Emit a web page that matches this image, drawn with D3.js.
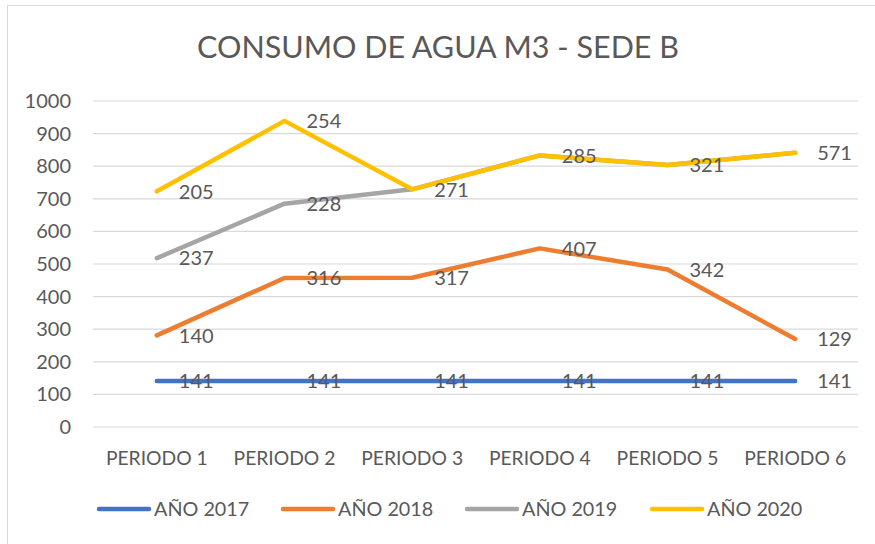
<!DOCTYPE html>
<html>
<head>
<meta charset="utf-8">
<script src="https://cdn.jsdelivr.net/npm/d3@7"></script>
<style>
  body { margin: 0; background: #fff; }
  text { font-family: Lato, "Open Sans", sans-serif; fill: #595959; }
</style>
</head>
<body>
<svg id="chart" width="875" height="544"></svg>
<script>
// data (stacked lines, one value per period)
var periods = ["PERIODO 1", "PERIODO 2", "PERIODO 3", "PERIODO 4", "PERIODO 5", "PERIODO 6"];
var years = ["AÑO 2017", "AÑO 2018", "AÑO 2019", "AÑO 2020"];
var y2017 = [141, 141, 141, 141, 141, 141];
var y2018 = [140, 316, 317, 407, 342, 129];
var y2019 = [237, 228, 271, 285, 321, 571];
var y2020 = [205, 254, 0, 0, 0, 0];
var yTicks = [0, 100, 200, 300, 400, 500, 600, 700, 800, 900, 1000];
var colors = ["#4472C4", "#ED7D31", "#A5A5A5", "#FFC000"];

var series = [y2017, y2018, y2019, y2020];
var rows = periods.map(function (p, i) {
  var r = { period: p };
  years.forEach(function (y, k) { r[y] = series[k][i]; });
  return r;
});
var stacked = d3.stack().keys(years)(rows);

var svg = d3.select("#chart");

// chart border
svg.append("rect")
   .attr("x", 7.5).attr("y", 5.5)
   .attr("width", 900).attr("height", 600)
   .attr("fill", "none")
   .attr("stroke", "#d9d9d9");

var x = d3.scaleBand().domain(periods).range([93, 859]);
var y = d3.scaleLinear().domain([0, 1000]).range([427, 101]);

// gridlines
svg.append("g")
   .selectAll("line")
   .data(yTicks)
   .join("line")
   .attr("x1", 93).attr("x2", 858)
   .attr("y1", function (d) { return y(d); })
   .attr("y2", function (d) { return y(d); })
   .attr("stroke", "#d9d9d9")
   .attr("stroke-width", 1.2);

// y axis labels
var yAxis = svg.append("g")
   .attr("transform", "translate(75,0)")
   .call(d3.axisLeft(y).tickValues(yTicks).tickFormat(d3.format("d")).tickSize(0).tickPadding(4));
yAxis.select(".domain").remove();
yAxis.selectAll("text")
   .style("font-size", "20px")
   .style("font-family", "Lato, sans-serif")
   .attr("fill", "#595959");

// x axis labels
var xAxis = svg.append("g")
   .attr("transform", "translate(0,427)")
   .call(d3.axisBottom(x).tickSize(0).tickPadding(24));
xAxis.select(".domain").remove();
xAxis.selectAll("text")
   .style("font-size", "19.3px")
   .style("font-family", "Lato, sans-serif")
   .attr("fill", "#595959");

var cx = function (d) { return x(d.data.period) + x.bandwidth() / 2; };

var line = d3.line()
   .x(cx)
   .y(function (d) { return y(d[1]); });

svg.append("g")
   .selectAll("path")
   .data(stacked)
   .join("path")
   .attr("d", line)
   .attr("fill", "none")
   .attr("stroke", function (d, i) { return colors[i]; })
   .attr("stroke-width", 4.5)
   .attr("stroke-linecap", "round")
   .attr("stroke-linejoin", "round");

// data labels, right of each point; zero values are hidden
stacked.forEach(function (s) {
  svg.append("g")
     .selectAll("text")
     .data(s.filter(function (d) { return d[1] - d[0] > 0; }))
     .join("text")
     .attr("x", function (d) { return cx(d) + 22; })
     .attr("y", function (d) { return y(d[1]); })
     .attr("dy", "0.36em")
     .style("font-size", "20px")
     .text(function (d) { return d[1] - d[0]; });
});

// title
svg.append("text")
   .attr("x", 438).attr("y", 58)
   .attr("text-anchor", "middle")
   .style("font-size", "30.5px")
   .text("CONSUMO DE AGUA M3 - SEDE B");

// legend
var legendX = [97, 281, 465, 650];
var legend = svg.append("g")
   .selectAll("g")
   .data(years)
   .join("g")
   .attr("transform", function (d, i) { return "translate(" + legendX[i] + ",509)"; });
legend.append("line")
   .attr("x1", 2).attr("x2", 52)
   .attr("stroke", function (d, i) { return colors[i]; })
   .attr("stroke-width", 4.5)
   .attr("stroke-linecap", "round");
legend.append("text")
   .attr("x", 57)
   .attr("dy", "0.36em")
   .style("font-size", "19.8px")
   .text(function (d) { return d; });
</script>
</body>
</html>
